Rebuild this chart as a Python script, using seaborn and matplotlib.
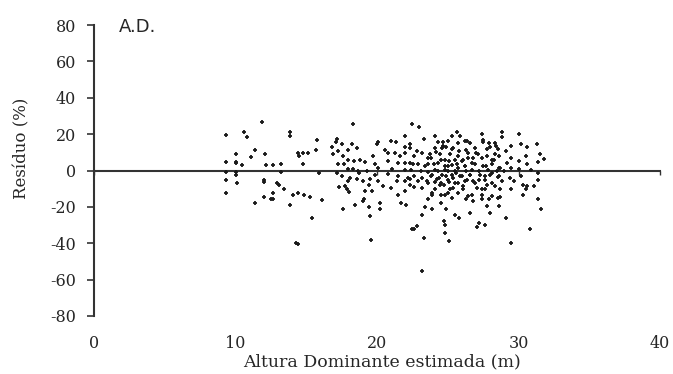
import matplotlib
matplotlib.use("Agg")
import matplotlib.pyplot as plt
import seaborn as sns
import pandas as pd

# (altura dominante estimada [m], resíduo [%])
pontos = [
    (11.84,26.8),(9.36,19.4),(10.61,21.3),(10.80,18.5),(13.84,21.3),(13.84,18.9),(11.36,11.2),(11.13,7.5),
    (10.04,9.2),(12.12,9.2),(14.43,9.7),(9.31,4.8),(10.0,4.8),(10.07,3.9),(10.47,2.9),(12.19,2.9),(12.66,2.9),
    (13.25,3.3),(13.25,-0.7),(9.31,-0.7),(10.07,-0.7),(10.0,-2.6),(9.31,-5.3),(10.11,-7.1),(12.02,-5.3),
    (12.02,-6.4),(12.9,-7.1),(13.06,-8.2),(13.44,-10.4),(9.31,-12.3),(12.66,-12.3),(12.02,-14.5),(12.5,-15.4),
    (12.66,-15.6),(14.03,-13.7),(14.43,-12.3),(13.84,-18.7),(11.41,-17.8),(14.31,-40.1),(14.4,-40.6),
    (18.32,25.8),(15.77,16.7),(17.14,17.4),(17.1,15.5),(16.79,12.8),(15.68,11.5),(14.48,7.8),(14.78,9.7),
    (15.09,9.7),(14.78,3.8),(16.86,9.3),(17.26,10.6),(17.5,14.3),(17.96,11.5),(18.25,14.7),(18.56,12.5),
    (17.6,7.9),(17.96,6.0),(18.39,5.1),(17.21,3.3),(17.69,3.3),(17.96,0.9),(18.32,0.9),(18.63,-0.4),
    (17.14,-1.3),(15.91,-1.6),(17.5,-3.1),(18.1,-4.0),(17.96,-5.9),(18.6,-4.9),(17.33,-9.2),(17.73,-8.6),
    (17.85,-10.1),(18.01,-11.9),(14.85,-13.5),(15.25,-14.6),(16.12,-16.3),(17.61,-20.9),(18.44,-18.7),
    (15.42,-26.0),
    (22.49,25.3),(20.08,15.5),(19.97,14.3),(20.98,16.1),(21.31,15.5),(21.97,18.9),(21.97,13.0),(22.33,14.3),
    (20.56,11.5),(20.8,9.7),(21.27,9.7),(21.6,7.9),(22.0,9.7),(19.73,7.9),(18.79,6.0),(19.15,4.6),(19.85,3.8),
    (20.8,5.1),(21.5,4.2),(21.97,4.2),(22.56,3.3),(20.1,1.5),(21.03,0.9),(21.97,0.2),(19.27,-0.4),(18.7,-1.3),
    (19.85,-2.2),(20.8,-1.7),(21.5,-3.1),(22.2,-4.0),(19.03,-5.9),(19.5,-4.9),(20.08,-5.9),(20.44,-8.6),
    (20.98,-9.5),(21.4,-5.9),(21.97,-5.9),(22.33,-7.7),(19.4,-7.7),(19.15,-11.0),(19.62,-11.0),(21.5,-13.2),
    (21.97,-11.4),(19.1,-15.6),(19.03,-16.8),(20.2,-17.8),(21.7,-17.8),(22.03,-19.2),(19.4,-20.0),(20.2,-21.4),
    (19.54,-25.1),(22.5,-32.0),(19.57,-38.3),
    (22.95,24.0),(25.63,21.0),(25.3,18.9),(24.09,19.2),(25.9,18.9),(23.3,17.4),(24.68,15.6),(26.2,16.1),
    (24.56,12.5),(24.2,10.1),(24.9,13.0),(25.3,11.9),(25.8,10.6),(26.3,11.5),(22.3,12.5),(22.8,10.6),(23.2,9.7),
    (22.6,7.9),(23.6,7.0),(23.8,7.0),(24.5,6.0),(25.1,5.1),(25.5,6.0),(26.0,5.1),(26.4,7.0),(22.3,4.2),(22.9,3.3),
    (23.4,2.4),(24.0,3.3),(24.8,2.4),(25.3,2.9),(25.7,1.5),(26.2,2.4),(22.4,0.2),(23.1,-0.4),(23.6,-1.0),
    (24.3,-0.4),(25.0,-0.4),(25.6,-1.3),(26.3,-0.4),(22.6,-3.1),(23.2,-4.0),(23.8,-3.1),(24.4,-4.0),(24.9,-3.1),
    (25.4,-4.0),(25.9,-3.1),(22.3,-4.9),(22.9,-5.9),(23.5,-5.9),(24.1,-6.4),(24.55,-7.1),(25.1,-6.4),(25.7,-7.1),
    (26.2,-5.9),(22.6,-9.0),(23.2,-9.5),(24.7,-8.2),(25.4,-9.5),(26.1,-10.4),(23.9,-13.7),(24.5,-13.7),
    (25.0,-12.3),(25.3,-15.0),(26.3,-15.6),(24.5,-17.8),(23.4,-20.0),(23.9,-20.9),(24.9,-20.9),(23.2,-24.7),
    (25.5,-24.7),(25.8,-26.0),(24.75,-27.8),(24.8,-29.7),(22.8,-30.6),(22.6,-32.4),(24.8,-34.2),(23.3,-37.0),
    (25.1,-38.8),(23.15,-55.3),
    (28.8,21.0),(28.8,18.5),(30.04,20.2),(27.4,19.8),(27.5,17.0),(31.3,14.7),(30.2,14.7),(30.6,12.8),(29.5,13.7),
    (28.4,13.4),(27.9,15.2),(27.8,11.9),(29.1,10.6),(31.5,9.2),(30.5,7.9),(31.8,6.4),(31.4,4.6),(29.5,7.0),
    (30.0,5.1),(28.6,7.9),(26.6,15.2),(27.0,9.7),(27.4,7.0),(28.3,6.0),(29.2,4.2),(30.6,3.3),(26.7,4.2),(27.7,2.4),
    (28.6,1.5),(29.5,1.5),(30.0,0.9),(30.9,0.5),(27.2,-0.4),(28.1,-1.3),(29.0,-0.4),(31.4,-1.6),(26.6,-2.2),
    (27.6,-3.1),(28.6,-3.1),(29.4,-4.0),(30.2,-3.1),(26.8,-5.9),(27.2,-5.3),(28.1,-6.8),(28.8,-5.9),(29.7,-5.9),
    (30.3,-7.7),(31.4,-5.3),(30.6,-8.6),(31.1,-8.6),(27.1,-9.5),(27.6,-10.4),(28.7,-10.4),(29.5,-10.4),
    (30.5,-10.4),(26.7,-13.7),(27.4,-15.6),(27.9,-15.9),(28.7,-14.5),(30.3,-13.2),(26.8,-16.8),(28.6,-19.6),
    (27.8,-19.6),(31.4,-15.6),(31.6,-21.4),(26.6,-23.3),(28.0,-23.3),(29.1,-26.0),(27.2,-28.7),(27.1,-30.9),
    (27.6,-30.0),(30.8,-32.4),(29.5,-39.7),
    (24.33,15.6),(25.04,16.1),(25.75,15.2),(26.34,16.1),(27.52,15.6),(28.34,15.2),(24.10,12.5),(24.69,13.4),
    (25.39,12.5),(26.93,12.5),(27.99,13.0),(28.58,11.9),(23.74,8.8),(24.45,8.8),(25.16,8.8),(25.75,7.9),
    (26.45,9.7),(27.16,8.8),(27.75,7.9),(28.34,8.8),(24.80,6.0),(26.1,6.0),(26.81,7.0),(28.1,6.0),(23.63,3.3),
    (24.33,4.2),(25.04,2.4),(25.63,3.3),(26.22,2.4),(26.93,3.8),(27.52,2.4),(28.1,3.3),(28.7,1.5),(24.1,0.5),
    (24.8,0.2),(25.51,-0.4),(26.69,0.2),(27.87,0.2),(28.46,-0.4),(23.86,-2.2),(24.57,-2.7),(25.28,-2.2),
    (25.98,-3.1),(26.57,-2.2),(27.28,-2.7),(27.99,-2.2),(28.58,-3.5),(24.21,-4.6),(25.04,-5.0),(26.34,-5.0),
    (27.63,-5.0),(23.63,-6.8),(24.45,-7.7),(25.51,-6.8),(26.1,-8.6),(26.93,-7.1),(27.75,-7.7),(28.34,-8.6),
    (24.1,-10.1),(25.16,-10.4),(27.4,-10.4),(23.86,-12.3),(24.8,-13.2),(25.75,-12.6),(26.45,-14.1),(27.4,-13.2),
    (28.1,-14.1),(23.63,-15.6),(28.58,-15.0),
]
altura_estimada = [p[0] for p in pontos]
residuo_pct = [p[1] for p in pontos]

x_ticks = [0, 10, 20, 30, 40]
y_ticks = [-80, -60, -40, -20, 0, 20, 40, 60, 80]
painel = "A.D."
x_label = "Altura Dominante estimada (m)"
y_label = "Resíduo (%)"

df = pd.DataFrame({"x": altura_estimada, "y": residuo_pct})

sns.set_style("white")
plt.rcParams["font.family"] = ["DejaVu Serif"]

W, H = 673, 374
fig = plt.figure(figsize=(W / 100, H / 100), dpi=100)
ax = fig.add_axes([94 / W, 1 - 316 / H, (660 - 94) / W, (316 - 25) / H])

sns.scatterplot(data=df, x="x", y="y", ax=ax, marker="+", s=9, color="#1a1a1a",
                linewidth=1.3, legend=False, zorder=3)

ax.set_xlim(0, 40)
ax.set_ylim(-80, 80)
ax.set_xticks(x_ticks)
ax.set_yticks(y_ticks)
ax.set_xlabel("")
ax.set_ylabel("")

for s in ["top", "right"]:
    ax.spines[s].set_visible(False)
ax.spines["left"].set_linewidth(1.5)
ax.spines["left"].set_color("#333333")
# horizontal axis crossing at zero
ax.spines["bottom"].set_position(("data", 0))
ax.spines["bottom"].set_linewidth(1.5)
ax.spines["bottom"].set_color("#333333")
ax.tick_params(axis="x", direction="out", length=3, width=1.0, color="#333333",
               labelbottom=False, bottom=True)
ax.tick_params(axis="y", direction="out", length=5, width=1.2, color="#333333",
               labelsize=11.5, pad=8, left=True)
ax.set_yticklabels([str(v) for v in y_ticks])

sec = ax.secondary_xaxis(0.0)
sec.set_xticks(x_ticks)
sec.set_xticklabels([str(v) for v in x_ticks])
sec.spines["bottom"].set_visible(False)
sec.tick_params(axis="x", length=0, pad=14, labelsize=11.5)

fig.text(382 / W, 1 - 362 / H, x_label, ha="center", va="center", fontsize=12.5)
fig.text(22 / W, 1 - 148 / H, y_label, ha="center", va="center", rotation=90, fontsize=12)
fig.text(138 / W, 1 - 27 / H, painel, ha="center", va="center", fontsize=13,
         family=["DejaVu Sans"])

fig.savefig("out.png", dpi=100)
